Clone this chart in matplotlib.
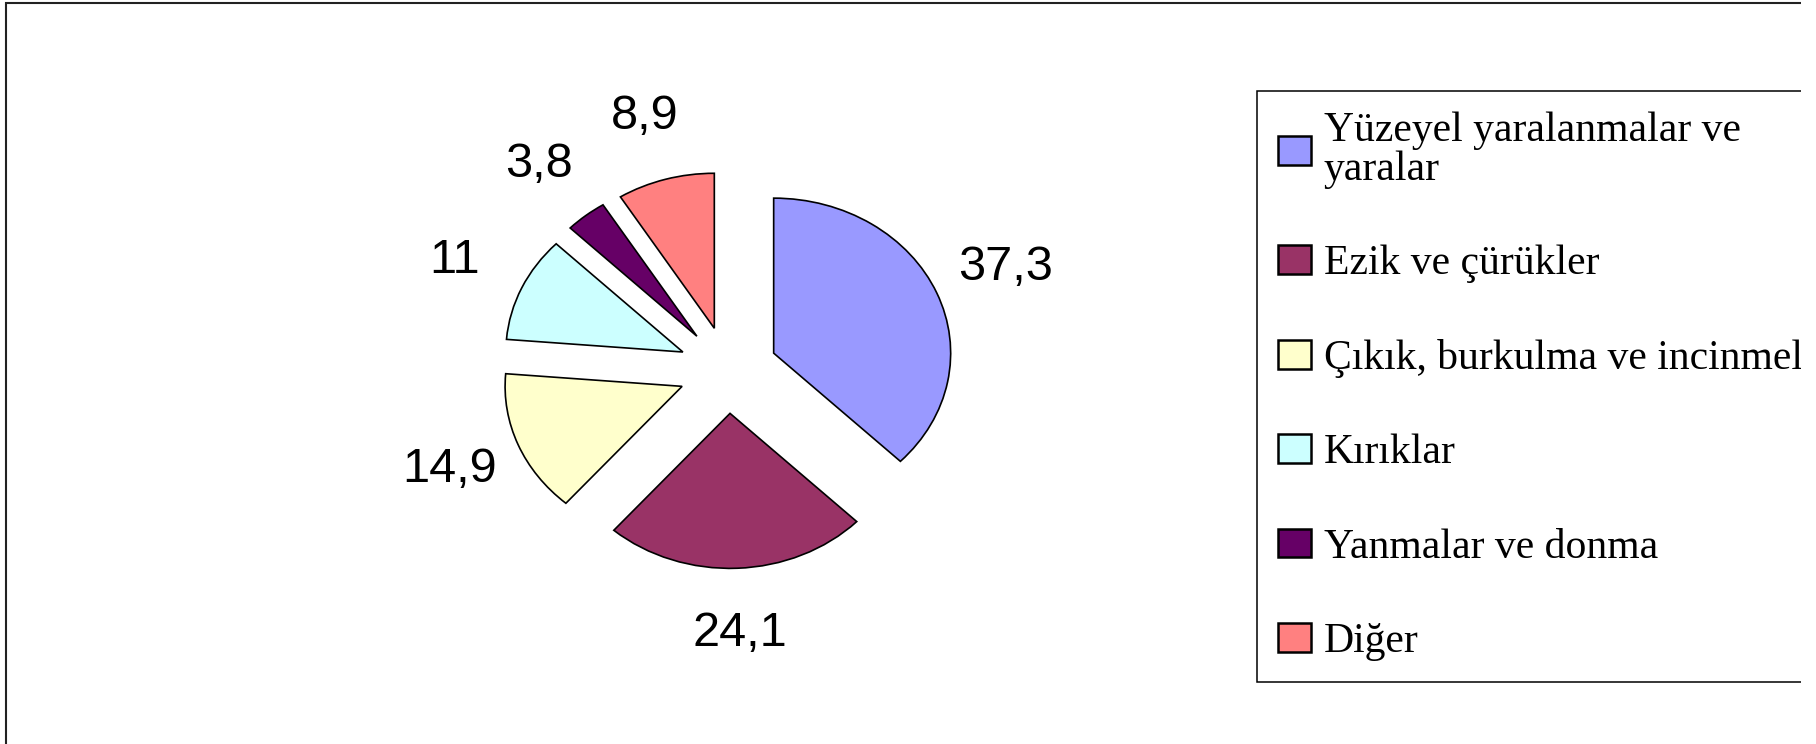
import matplotlib
matplotlib.use("Agg")
import matplotlib.pyplot as plt
from matplotlib.patches import Rectangle

# ---------------- data ----------------
categories = ["Yüzeyel yaralanmalar ve\nyaralar",
              "Ezik ve çürükler",
              "Çıkık, burkulma ve incinmeler",
              "Kırıklar",
              "Yanmalar ve donma",
              "Diğer"]
values = [37.3, 24.1, 14.9, 11, 3.8, 8.9]
value_labels = ["37,3", "24,1", "14,9", "11", "3,8", "8,9"]
colors = ["#9999FF", "#993366", "#FFFFCC", "#CCFFFF", "#660066", "#FF8080"]

W, H = 1816, 744
fig = plt.figure(figsize=(W / 100, H / 100), dpi=100)

# pie axes (stretched horizontally like the original picture)
ax = fig.add_axes([374 / W, 64 / H, 708 / W, 620 / H])
wedges, texts = ax.pie(values,
                       labels=value_labels,
                       colors=colors,
                       startangle=90,
                       counterclock=False,
                       explode=[0.28] * len(values),
                       labeldistance=1.42,
                       wedgeprops=dict(edgecolor="black", linewidth=1.2),
                       textprops=dict(family="Liberation Sans", fontsize=35))
for t in texts:
    t.set_horizontalalignment("center")
    t.set_verticalalignment("center")
ax.set_aspect("auto")
ax.set_xlim(-2, 2)
ax.set_ylim(-2, 2)
ax.axis("off")

# legend (its right part is cut off by the picture edge, as in the original)
leg = fig.legend(wedges, categories,
                 loc="upper left",
                 bbox_to_anchor=(1257 / W, 1 - 91 / H),
                 borderaxespad=0,
                 prop=dict(family="Liberation Serif", size=30),
                 frameon=True, fancybox=False, framealpha=1,
                 edgecolor="black",
                 borderpad=0.5,
                 labelspacing=1.34,
                 handlelength=0.8, handleheight=0.68,
                 handletextpad=0.3)
leg.get_frame().set_linewidth(1.1)
leg.get_texts()[0].set_linespacing(1.0)
for h in leg.legend_handles:
    h.set_linewidth(1.8)

# outer chart frame (cropped on the right and bottom)
fig.patches.append(Rectangle((6 / W, -0.1), (1900 - 6) / W, 1.1 - 3 / H,
                             transform=fig.transFigure, fill=False,
                             edgecolor="#222222", linewidth=1.5, zorder=5))
# white strip where the picture is cut off
fig.patches.append(Rectangle((1801 / W, 0), 1, 1, transform=fig.transFigure,
                             facecolor="white", edgecolor="none", zorder=100))

fig.savefig("out.png", dpi=100)
